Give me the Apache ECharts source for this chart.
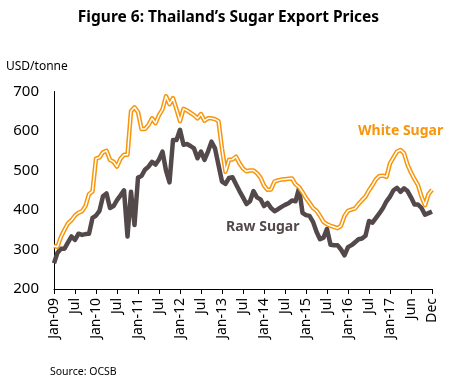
<!DOCTYPE html>
<html><head><meta charset="utf-8">
<script src="https://cdn.jsdelivr.net/npm/echarts@6/dist/echarts.min.js"></script>
<style>html,body{margin:0;padding:0;background:#fff}#c{width:457px;height:389px}</style>
</head><body><div id="c"></div>
<script>
var tickLabels = ['Jan-09','Jul','Jan-10','Jul','Jan-11','Jul','Jan-12','Jul','Jan-13','Jul','Jan-14','Jul','Jan-15','Jul','Jan-16','Jul','Jan-17','Jun','Dec'];
var rawSugar = [265,292,302,302,318,333,324,340,337,339,340,380,386,398,435,442,405,410,425,437,
450,333,446,362,482,486,502,510,522,515,528,548,500,470,577,577,603,565,567,562,
556,531,548,527,548,573,556,514,472,466,481,483,465,448,432,415,422,448,432,427,
410,418,405,397,402,408,413,417,424,422,455,393,387,385,370,345,326,330,352,312,
311,311,300,285,306,311,318,326,328,335,372,368,380,392,405,422,434,450,456,446,
455,448,432,414,414,405,388,392,396];
var whiteSugar = [309,307,332,350,366,374,386,393,397,410,440,447,530,533,546,550,527,522,510,530,
540,540,650,660,648,605,605,615,632,620,640,655,688,668,683,655,625,656,652,646,
640,632,643,626,632,632,630,625,555,497,527,528,535,518,505,498,500,500,493,482,
462,451,452,472,475,477,478,479,480,465,458,445,430,418,405,398,385,370,364,360,
357,354,360,385,398,401,404,415,425,434,450,463,478,486,487,484,518,533,548,552,
544,515,495,478,463,434,412,440,451];
var categories = rawSugar.map(function(_, i){ return String(i); });

var ORANGE = '#F7960B', DARK = '#54494A';
var FONT = 'Noto Sans';
var chart = echarts.init(document.getElementById('c'), null, {renderer:'canvas'});
chart.setOption({
  animation:false,
  backgroundColor:'#fff',
  title:{text:'Figure 6: Thailand\u2019s Sugar Export Prices', left:'center', top:5,
    textStyle:{fontFamily:FONT, fontWeight:'bold', fontSize:15.5, color:'#000'}},
  grid:{left:54, right:25, top:91.5, bottom:100, containLabel:false},
  xAxis:{type:'category', data:categories, boundaryGap:false,
    axisLine:{lineStyle:{color:'#000', width:1}},
    axisTick:{interval:function(i){return i%6===0;}, length:5, lineStyle:{color:'#000'}},
    axisLabel:{interval:function(i){return i%6===0;}, rotate:90, margin:9,
      fontFamily:FONT, fontSize:14, color:'#000',
      formatter:function(v, i){ return tickLabels[Math.round(i/6)] || ''; }},
    splitLine:{show:false}},
  yAxis:{type:'value', min:200, max:700, interval:100,
    axisLine:{show:true, lineStyle:{color:'#000', width:1}},
    axisTick:{show:false},
    axisLabel:{fontFamily:FONT, fontSize:15, color:'#000', margin:15},
    splitLine:{show:false}},
  series:[
    {type:'line', data:rawSugar, symbol:'none', lineStyle:{color:DARK, width:4.5, join:'round'}, z:2},
    {type:'line', data:whiteSugar, symbol:'none', lineStyle:{color:ORANGE, width:4.5, join:'round'}, z:3},
    {type:'line', data:whiteSugar, symbol:'none', lineStyle:{color:'#fff', width:1.5, join:'round'}, z:4}
  ],
  graphic:[
    {type:'text', left:6, top:61, style:{text:'USD/tonne', fontFamily:FONT, fontSize:12, fill:'#000'}},
    {type:'text', left:50, top:367, style:{text:'Source: OCSB', fontFamily:FONT, fontSize:10.5, fill:'#000'}},
    {type:'text', left:358, top:124, style:{text:'White Sugar', fontFamily:FONT, fontWeight:'bold', fontSize:14, fill:ORANGE}},
    {type:'text', left:226, top:220, style:{text:'Raw Sugar', fontFamily:FONT, fontWeight:'bold', fontSize:14, fill:DARK}}
  ]
});
</script></body></html>
